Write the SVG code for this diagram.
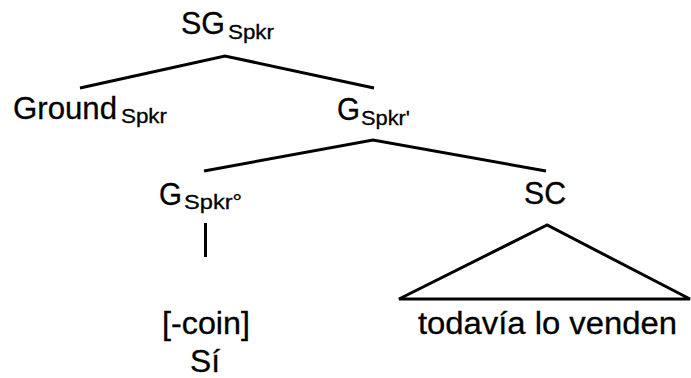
<svg xmlns="http://www.w3.org/2000/svg" width="691" height="378" viewBox="0 0 691 378">
<style>
.t{font-family:"Liberation Sans",Arial,sans-serif;font-size:31px;fill:#000;stroke:#000;stroke-width:0.3}
.s{font-size:20px}
.e{stroke:#000;stroke-width:3;fill:none;stroke-linecap:butt}
</style>
<rect width="691" height="378" fill="#fff"/>
<g id="connectors">
<polyline class="e" points="80,88 225,56 374,88"/>
<polyline class="e" points="204,171 373,140 546,171"/>
<line class="e" x1="205.5" y1="223" x2="205.5" y2="257"/>
<polygon class="e" points="547,225 399,299 690,299"/>
</g>
<g id="n_sg"><text class="t" x="181" y="34" textLength="44" lengthAdjust="spacingAndGlyphs">SG</text><text class="t s" x="228" y="39" textLength="46" lengthAdjust="spacingAndGlyphs">Spkr</text></g>
<g id="n_ground"><text class="t" x="13" y="119" textLength="104" lengthAdjust="spacingAndGlyphs">Ground</text><text class="t s" x="121" y="123" textLength="46" lengthAdjust="spacingAndGlyphs">Spkr</text></g>
<g id="n_gbar"><text class="t" x="337" y="120" textLength="23" lengthAdjust="spacingAndGlyphs">G</text><text class="t s" x="361" y="125" textLength="49" lengthAdjust="spacingAndGlyphs">Spkr'</text></g>
<g id="n_g0"><text class="t" x="159" y="205" textLength="23" lengthAdjust="spacingAndGlyphs">G</text><text class="t s" x="184" y="209" textLength="58" lengthAdjust="spacingAndGlyphs">Spkr°</text></g>
<g id="n_sc"><text class="t" x="524" y="204" textLength="42" lengthAdjust="spacingAndGlyphs">SC</text></g>
<g id="n_coin"><text class="t" x="162" y="334" textLength="88" lengthAdjust="spacingAndGlyphs">[-coin]</text><text class="t" x="190" y="372" textLength="30" lengthAdjust="spacingAndGlyphs">Sí</text></g>
<g id="n_tri"><text class="t" x="418" y="334" textLength="259" lengthAdjust="spacingAndGlyphs">todavía lo venden</text></g>
</svg>
